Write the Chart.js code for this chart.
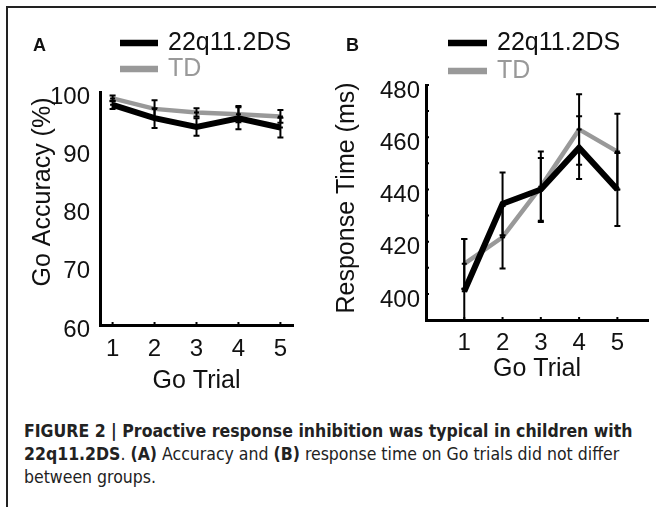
<!DOCTYPE html>
<html>
<head>
<meta charset="utf-8">
<script src="https://cdn.jsdelivr.net/npm/chart.js@4.4.0/dist/chart.umd.min.js"></script>
<style>
  html, body { margin: 0; padding: 0; background: #fff; }
  body { width: 656px; height: 507px; position: relative; overflow: hidden; font-family: "Liberation Sans", Arial, sans-serif; }
  .frame { position: absolute; left: 6px; top: 6px; right: -4px; bottom: -4px; border-top: 2px solid #222; border-left: 2px solid #222; }
  .panel { position: absolute; top: 0; height: 400px; }
  #panelA { left: 0; width: 320px; }
  #panelB { left: 320px; width: 336px; }
  .letter { position: absolute; font-weight: bold; font-size: 18px; color: #111; }
  .caption { position: absolute; left: 24px; top: 420px; font-family: "Liberation Sans Narrow", "DejaVu Sans Condensed", Arial, sans-serif; font-size: 17.5px; line-height: 23px; color: #222; white-space: nowrap; }
</style>
</head>
<body>
<div class="frame"></div>
<div class="panel" id="panelA"><canvas id="accChart" width="320" height="400"></canvas></div>
<div class="panel" id="panelB"><canvas id="rtChart" width="336" height="400"></canvas></div>
<div class="letter" style="left:33px;top:35px;">A</div>
<div class="letter" style="left:346px;top:35px;">B</div>
<div class="caption"><b>FIGURE 2 | Proactive response inhibition was typical in children with</b><br><b>22q11.2DS</b>. <b>(A)</b> Accuracy and <b>(B)</b> response time on Go trials did not differ<br>between groups.</div>
<script>
// values
const trials = [1, 2, 3, 4, 5];
const groups = ['22q11.2DS', 'TD'];

const accDS = [97.8, 95.5, 94.0, 95.5, 93.9];
const accTD = [98.9, 97.1, 96.5, 96.2, 95.8];
const accErrDS = [0.7, 1.7, 1.5, 1.9, 1.7];
const accErrTD = [0.5, 1.5, 0.7, 1.4, 1.1];
const accTicks = [60, 70, 80, 90, 100];

const rtDS = [401, 434.5, 440, 456, 440];
const rtTD = [411.5, 421.7, 441, 463, 454.5];
const rtErrDS = [20, 12, 12, 12, 14];
const rtErrTD = [9.5, 12, 13.5, 13.5, 14.5];
const rtTicks = [390, 400, 410, 420, 430, 440, 450, 460, 470, 480];
const rtLabels = [400, 420, 440, 460, 480];

const FONT = '"Liberation Sans", Arial, sans-serif';
const black = '#000';
const gray = '#999';

const pts = (ys) => trials.map((t, i) => ({ x: t, y: ys[i] }));

// error bars, all drawn in black with caps and a small mark at the mean
const errorBars = {
  id: 'errorBars',
  afterDatasetsDraw(chart) {
    const { ctx, chartArea, scales: { x, y } } = chart;
    ctx.save();
    ctx.beginPath();
    ctx.rect(chartArea.left, chartArea.top - 4, chartArea.width, chartArea.height + 4);
    ctx.clip();
    ctx.strokeStyle = '#000';
    ctx.lineWidth = 2;
    chart.data.datasets.forEach(ds => {
      ds.data.forEach((p, i) => {
        const e = ds.errors[i];
        const px = x.getPixelForValue(p.x);
        const lo = y.getPixelForValue(p.y - e);
        const hi = y.getPixelForValue(p.y + e);
        const mid = y.getPixelForValue(p.y);
        ctx.beginPath();
        ctx.moveTo(px, lo); ctx.lineTo(px, hi);
        ctx.moveTo(px - 3, lo); ctx.lineTo(px + 3, lo);
        ctx.moveTo(px - 3, hi); ctx.lineTo(px + 3, hi);
        ctx.moveTo(px - 2.5, mid); ctx.lineTo(px + 2.5, mid);
        ctx.stroke();
      });
    });
    ctx.restore();
  }
};

// matlab style inward ticks + rotated y title + legend
const decor = {
  id: 'decor',
  afterDraw(chart, args, opts) {
    const { ctx, chartArea, scales: { x, y } } = chart;
    ctx.save();
    ctx.strokeStyle = '#000';
    ctx.lineWidth = 2;
    ctx.beginPath();
    x.ticks.forEach(t => {
      const px = x.getPixelForValue(t.value);
      ctx.moveTo(px, chartArea.bottom); ctx.lineTo(px, chartArea.bottom - 3);
    });
    if (opts.yTicks) {
      y.ticks.forEach(t => {
        const py = y.getPixelForValue(t.value);
        ctx.moveTo(chartArea.left, py); ctx.lineTo(chartArea.left + 3, py);
      });
    }
    ctx.stroke();

    // y title
    ctx.fillStyle = '#111';
    ctx.font = '25px ' + FONT;
    ctx.textAlign = 'center';
    ctx.textBaseline = 'middle';
    ctx.translate(opts.titleX, opts.titleY);
    ctx.rotate(-Math.PI / 2);
    ctx.fillText(opts.title, 0, 0);
    ctx.setTransform(1, 0, 0, 1, 0, 0);

    // legend
    const lg = opts.legend;
    ctx.textAlign = 'left';
    chart.data.datasets.forEach((ds, i) => {
      const ly = lg.y + i * lg.dy;
      ctx.strokeStyle = ds.borderColor;
      ctx.lineWidth = 6.5;
      ctx.beginPath();
      ctx.moveTo(lg.x0, ly); ctx.lineTo(lg.x1, ly);
      ctx.stroke();
      ctx.fillStyle = i === 0 ? '#111' : gray;
      ctx.fillText(ds.label, lg.tx, ly);
    });
    ctx.restore();
  }
};

function makeChart(id, cfg) {
  return new Chart(document.getElementById(id), {
    type: 'line',
    data: {
      datasets: [
        { label: groups[0], data: pts(cfg.ds), errors: cfg.errDS, borderColor: black, borderWidth: 6, pointRadius: 0, tension: 0 },
        { label: groups[1], data: pts(cfg.td), errors: cfg.errTD, borderColor: gray, borderWidth: 4.5, pointRadius: 0, tension: 0 }
      ]
    },
    options: {
      responsive: false,
      animation: false,
      layout: { padding: cfg.padding },
      plugins: {
        legend: { display: false },
        tooltip: { enabled: false },
        decor: cfg.decor
      },
      scales: {
        x: {
          type: 'linear', min: cfg.xMin, max: cfg.xMax,
          afterBuildTicks: s => { s.ticks = trials.map(v => ({ value: v })); },
          afterFit: s => { s.height = cfg.xHeight; },
          grid: { display: false, drawTicks: false },
          border: { color: '#000', width: 3 },
          ticks: { color: '#111', font: { size: 24, family: FONT }, padding: cfg.xPad, maxRotation: 0, autoSkip: false },
          title: { display: true, text: 'Go Trial', color: '#111', font: { size: 25, family: FONT }, padding: { top: 0, bottom: cfg.xTitlePad } }
        },
        y: {
          type: 'linear', min: cfg.yMin, max: cfg.yMax,
          afterBuildTicks: s => { s.ticks = cfg.yTicks.map(v => ({ value: v })); },
          afterFit: s => { s.width = cfg.yWidth; },
          grid: { display: false, drawTicks: false },
          border: { color: '#000', width: 3 },
          ticks: {
            color: '#111', font: { size: 24, family: FONT }, padding: cfg.yPad, labelOffset: cfg.labelOffset, autoSkip: false,
            callback: v => (cfg.yLabels.includes(v) ? String(v) : '')
          }
        }
      }
    },
    plugins: [errorBars, decor]
  });
}

makeChart('accChart', {
  ds: accDS, td: accTD, errDS: accErrDS, errTD: accErrTD,
  xMin: 0.7, xMax: 5.3, yMin: 60, yMax: 100,
  yTicks: accTicks, yLabels: accTicks,
  padding: { left: 0, top: 92, right: 27, bottom: 0 },
  xHeight: 75, yWidth: 100, xPad: 10, xTitlePad: 4, yPad: 10, labelOffset: 5,
  decor: { yTicks: false, title: 'Go Accuracy (%)', titleX: 43, titleY: 192,
           legend: { x0: 120, x1: 158, tx: 168, y: 43, dy: 26 } }
});

makeChart('rtChart', {
  ds: rtDS, td: rtTD, errDS: rtErrDS, errTD: rtErrTD,
  xMin: 0, xMax: 5.8, yMin: 390, yMax: 480,
  yTicks: rtTicks, yLabels: rtLabels,
  padding: { left: 0, top: 85, right: 8, bottom: 0 },
  xHeight: 80, yWidth: 106, xPad: 9, xTitlePad: 16, yPad: 6, labelOffset: 6,
  decor: { yTicks: true, title: 'Response Time (ms)', titleX: 27, titleY: 198,
           legend: { x0: 128, x1: 167, tx: 177, y: 43, dy: 28 } }
});
</script>
</body>
</html>
